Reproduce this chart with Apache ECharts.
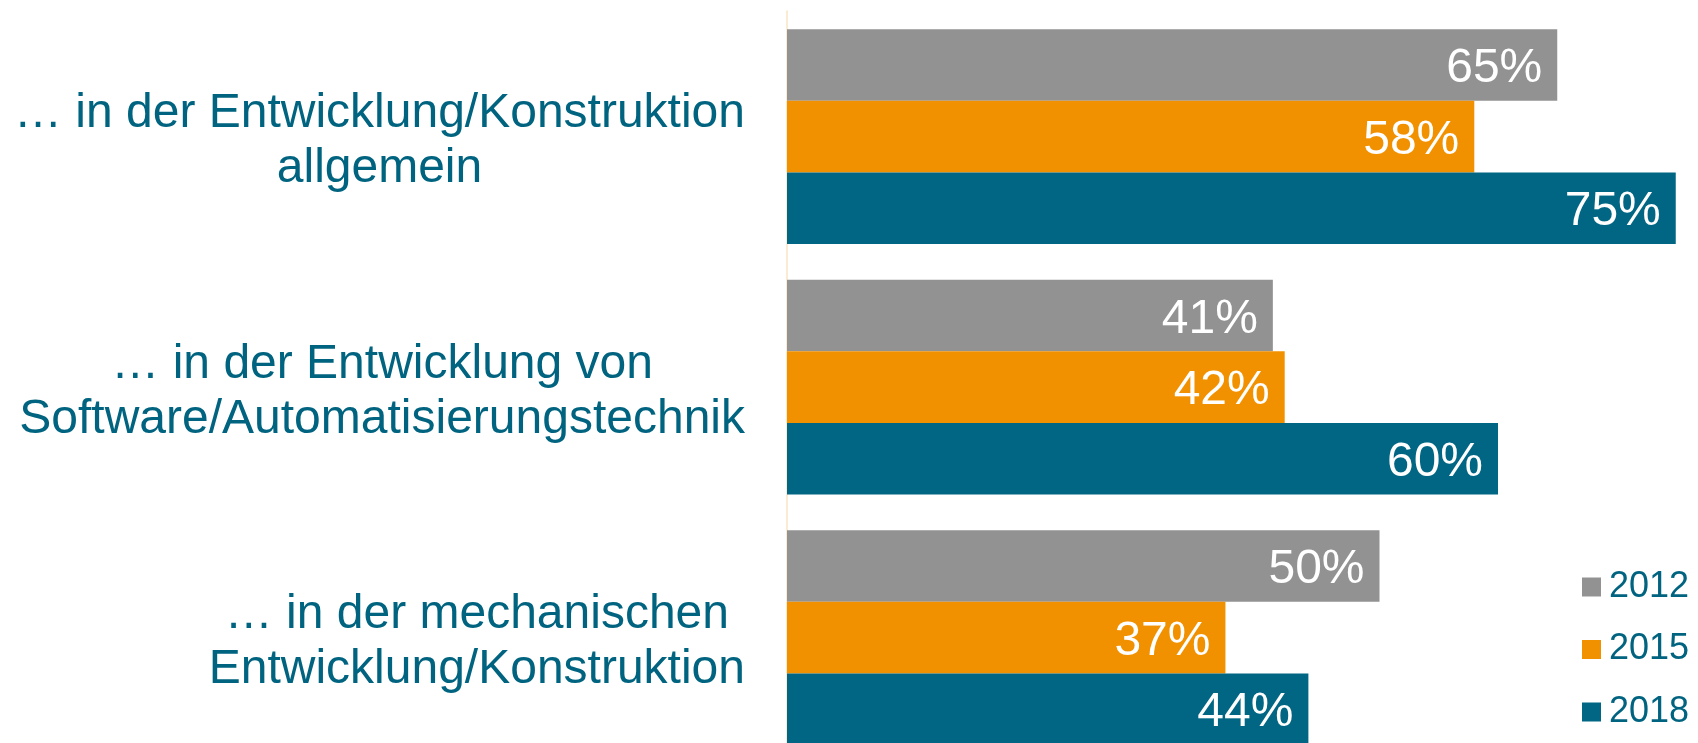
<!DOCTYPE html>
<html>
<head>
<meta charset="utf-8">
<script src="https://cdn.jsdelivr.net/npm/echarts@6/dist/echarts.min.js"></script>
<style>
html,body{margin:0;padding:0;background:#fff;}
#chart{width:1698px;height:743px;}
</style>
</head>
<body>
<div id="chart"></div>
<script>
const categories = [
  "… in der Entwicklung/Konstruktion\nallgemein",
  "… in der Entwicklung von\nSoftware/Automatisierungstechnik",
  "… in der mechanischen\nEntwicklung/Konstruktion"
];
const years = ["2012", "2015", "2018"];
const values2012 = [65, 41, 50];
const values2015 = [58, 42, 37];
const values2018 = [75, 60, 44];

const colors = ["#929292", "#F29100", "#006683"];
const textColor = "#00637F";
const font = "'Liberation Sans', Arial, sans-serif";

const chart = echarts.init(document.getElementById('chart'));
const seriesData = [values2012, values2015, values2018];

chart.setOption({
  animation: false,
  backgroundColor: '#ffffff',
  grid: { left: 787, top: 11.35, height: 751.5, width: 1185, containLabel: false, outerBoundsMode: 'none' },
  xAxis: {
    type: 'value', min: 0, max: 100, show: false,
    splitLine: { show: false }
  },
  yAxis: {
    type: 'category',
    data: categories,
    inverse: true,
    axisLine: { show: true, lineStyle: { color: '#FCEBD3', width: 2 } },
    axisTick: { show: false },
    axisLabel: {
      margin: 42,
      align: 'right',
      padding: [10, 0, 0, 0],
      formatter: function (v) {
        return v.split('\n').map(function (l) { return '{c|' + l + '}'; }).join('\n');
      },
      rich: {
        c: { align: 'center', fontSize: 48, lineHeight: 55, color: textColor, fontFamily: font }
      }
    }
  },
  legend: {
    orient: 'vertical',
    left: 1582,
    top: 569,
    padding: 0,
    itemWidth: 19,
    itemHeight: 19,
    itemGap: 26.5,
    icon: 'rect',
    data: years,
    textStyle: { fontSize: 36, color: textColor, fontFamily: font, padding: [0, 0, 0, 3] }
  },
  series: years.map(function (y, i) {
    return {
      name: y,
      type: 'bar',
      data: seriesData[i],
      barGap: '0%',
      barCategoryGap: '14.2%',
      itemStyle: { color: colors[i] },
      label: {
        show: true,
        position: 'insideRight',
        distance: 15,
        offset: [0, 4],
        formatter: '{c}%',
        color: '#ffffff',
        fontSize: 48,
        fontFamily: font
      }
    };
  })
});
</script>
</body>
</html>
